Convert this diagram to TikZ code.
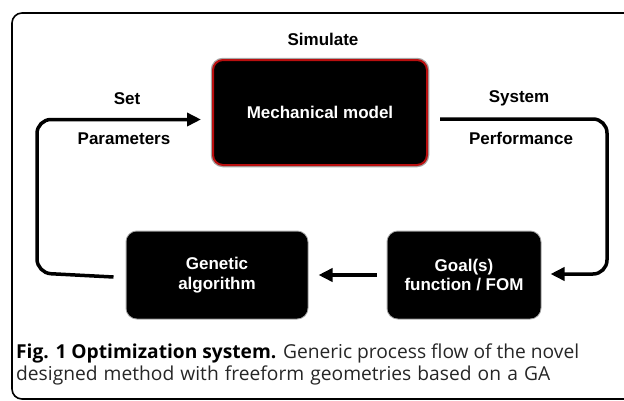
\documentclass[tikz,border=0pt]{standalone}
\usepackage{fontspec}
\setmainfont{Liberation Sans}
\newfontfamily\capfont{Open Sans}
\usetikzlibrary{arrows.meta}
\begin{document}
\begin{tikzpicture}[x=1pt,y=-1pt,
  blackbox/.style={rounded corners=10pt, fill=black, draw=black, line width=1pt,
    preaction={draw=black!35, line width=3pt}, text=white, font=\fontsize{17}{19.5}\selectfont\bfseries, align=center, inner sep=0pt},
  redbox/.style={blackbox, draw={rgb,255:red,185;green,15;blue,15}, line width=2pt,
    preaction={draw=black!35, line width=4.5pt}},
  lbl/.style={font=\fontsize{17}{20}\selectfont\bfseries, inner sep=0pt},
  conn/.style={line width=3.5pt, rounded corners=14pt},
  arr/.style={conn, -{Triangle[length=14pt,width=13pt]}},
  capt/.style={font=\capfont\fontsize{19.2}{22}\selectfont, anchor=base west, inner sep=0pt, text=black!85}
]
\useasboundingbox (0,0) rectangle (624,400);
\begin{scope}
\clip (0,0) rectangle (624,400);
\draw[line width=1.6pt, rounded corners=10pt] (12,13) rectangle (680,399);
\end{scope}

\node[redbox, minimum width=214pt, minimum height=105pt] (mech) at (320,112.5) {Mechanical model};
\node[blackbox, minimum width=180pt, minimum height=86pt] (ga) at (217,275) {Genetic\\algorithm};
\node[blackbox, minimum width=152pt, minimum height=86pt] (goal) at (464,275) {Goal(s)\\function / FOM};

\node[lbl] (sim) at (323,39) {Simulate};
\node[lbl] (set) at (127,98.5) {Set};
\node[lbl] (par) at (124,138.5) {Parameters};
\node[lbl] (sys) at (519,98.5) {System};
\node[lbl] (perf) at (521,138.5) {Performance};

\coordinate (l1) at (37,273);
\coordinate (l2) at (37,119.5);
\coordinate (r1) at (607,119);
\coordinate (r2) at (607,274);

\draw[arr] ([xshift=-13pt,yshift=-2pt]ga.west) -- (l1) -- (l2) -- ([xshift=-11pt]mech.west |- l2);
\draw[arr] ([xshift=12pt]mech.east |- r1) -- (r1) -- (r2) -- ([xshift=10pt]goal.east |- r2);
\draw[arr] ([xshift=-11pt]goal.west) -- ([xshift=11pt]ga.east);

\node[capt] (cap1) at (16,358) {\makebox[563pt][s]{{\color{black}\bfseries Fig. 1 Optimization system.} Generic process flow of the novel}};
\node[capt] (cap2) at (16,380) {\makebox[534pt][s]{designed method with freeform geometries based on a GA}};
\end{tikzpicture}
\end{document}
